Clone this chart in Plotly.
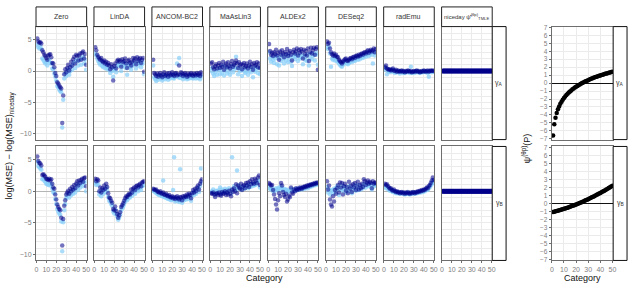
import plotly.graph_objects as go

categories = list(range(1, 51))
methods = ["Zero", "LinDA", "ANCOM-BC2", "MaAsLin3", "ALDEx2", "DESeq2", "radEmu",
           "niceday ψ̂<sup>(θp)</sup><sub>TMLE</sub>"]
rows = ["γ<sub>A</sub>", "γ<sub>B</sub>"]

# ---------- gamma A ----------
zero_A_dark = [5.2, 4.7, 4.5, 4.6, 4.4, 3.3, 3.0, 2.6, 2.4, 2.1,
               1.8, 2.5, 2.6, 2.7, 2.2, 1.3, 1.2, 0.6, -0.3, -0.8,
               -1.8, -2.0, -2.3, -2.6, -2.8, -8.3, -3.9, -0.5, 0.3, -0.2,
               0.5, 1.0, 0.1, 0.6, 1.5, 0.9, 1.9, 2.3, 1.2, 2.6,
               2.4, 1.7, 2.5, 2.8, 1.8, 2.9, 3.1, 2.0, 2.7, 1.0]
zero_A_light = [4.2, 3.8, 3.6, 3.9, 3.5, 2.0, 1.8, 1.5, 1.2, 1.4,
                0.9, 1.6, 1.8, 1.3, 1.2, 0.4, 0.3, -0.4, -0.9, -1.5,
                -2.4, -2.6, -3.0, -3.2, -3.4, -9.0, -4.6, -1.2, -0.4, -0.8,
                -0.2, 0.3, -0.6, 0.0, 0.8, 0.2, 1.2, 1.4, 0.5, 1.8,
                1.6, 0.9, 1.7, 2.0, 1.0, 2.0, 2.3, 1.2, 1.8, 0.2]
linda_A_dark = [3.8, 3.3, 2.6, 2.3, 2.0, 1.8, 2.1, 1.6, 1.4, 1.7,
                1.2, 1.5, 1.0, 1.3, 0.9, 0.3, 1.1, 0.6, -1.5, 0.8,
                1.2, 0.4, 1.6, 1.8, 1.5, 1.7, 0.7, 1.9, 1.4, 1.6,
                2.0, 1.2, 0.5, 1.6, 1.8, 1.3, 0.9, 1.5, 2.1, 1.7,
                2.0, 1.1, 2.2, 1.6, 1.9, 2.1, 1.3, 1.8, 2.1, -0.1]
linda_A_light = [2.8, 2.5, 2.0, 1.6, 1.3, 1.0, 1.4, 0.8, 0.6, 1.0,
                 0.5, 0.8, 0.3, 0.6, 0.2, -0.3, 0.5, 0.0, -0.9, 0.2,
                 0.5, -0.2, 0.9, 1.1, 0.8, 1.0, 0.0, 1.2, 0.7, 0.9,
                 1.3, 0.5, -0.6, 0.9, 1.1, 0.6, 0.2, 0.8, 1.4, 1.0,
                 1.3, 0.4, 1.5, 0.9, 1.2, 1.4, 0.6, 1.1, 1.4, -0.5]
ancom_A_dark = [1.8, -0.3, -0.5, -0.8, -0.4, -0.9, -0.6, -0.3, -0.7, -1.0,
                -0.5, -0.2, -0.8, -0.6, -0.4, -0.9, -0.3, -0.7, -0.5, -0.2,
                -0.6, -0.8, -0.4, -0.3, -0.7, -0.5, 0.9, -0.6, -0.2, -0.4,
                -0.8, -0.5, -0.3, -0.6, -0.9, -0.4, -0.7, -0.5, -0.3, -0.6,
                -0.8, -0.4, -0.5, -0.7, -0.3, -0.6, -0.4, -0.8, -0.2, -0.5]
ancom_A_light = [0.9, -1.0, -1.3, -1.6, -0.9, -1.4, -1.1, -0.8, -1.2, -1.5,
                 -1.0, -0.7, -1.3, -1.1, -0.9, -1.4, -0.8, -1.2, -1.0, -0.7,
                 -1.1, -1.2, -0.9, -0.6, 1.2, -1.0, 2.1, -1.1, -0.7, -0.9,
                 -1.3, -1.0, -0.8, -1.1, -1.3, -0.9, -1.2, -1.0, -0.8, -1.1,
                 -1.2, -0.9, -1.0, -1.2, -0.8, -1.1, -0.9, -1.3, -0.7, -1.0]
maaslin_A_dark = [1.2, 1.4, 0.6, 0.3, 0.8, 1.1, 0.4, 0.9, 1.3, 0.5,
                  1.0, 0.7, 1.5, 0.2, 0.9, 1.2, 0.6, 1.4, 0.8, 0.4,
                  1.1, 1.6, 0.7, 1.0, 1.3, 1.7, 1.2, 0.5, 1.4, 0.9,
                  1.1, 0.3, 1.0, 1.3, 0.6, 0.8, 1.2, 0.4, 0.9, 1.5,
                  0.7, 1.1, 0.2, 1.3, 0.8, 1.0, 1.4, 0.6, 1.2, 0.5]
maaslin_A_light = [0.0, 0.5, -0.4, -0.8, -0.2, 0.3, -0.6, 0.1, 0.5, -0.5,
                   0.2, -0.3, 0.8, -0.7, 0.0, 0.4, -0.4, 0.6, -0.1, -0.6,
                   0.3, 0.8, -0.2, 0.3, 0.6, 2.3, 0.4, -0.5, 0.6, 0.0,
                   0.2, -0.8, 0.1, 0.5, -0.3, -0.1, 0.4, -0.6, 0.0, 0.7,
                   -0.2, 0.3, -1.0, 0.5, -0.1, 0.2, 0.6, -0.3, 0.4, -0.5]
aldex_A_dark = [4.3, 3.2, 2.6, 2.9, 2.4, 3.0, 2.7, 3.4, 2.5, 2.9,
                1.8, 3.1, 2.6, 3.3, 2.8, 2.2, 3.0, 2.7, 3.5, 2.4,
                2.9, 3.2, 2.6, 1.7, 3.0, 3.4, 2.8, 3.1, 3.6, 2.5,
                3.3, 2.9, 3.5, 3.1, 2.0, 3.4, 2.7, 3.2, 2.5, 3.6,
                1.6, 3.0, 3.7, 2.8, 3.3, 3.7, 2.6, 3.5, 3.8, 0.2]
aldex_A_light = [3.0, 2.0, 1.5, 2.2, 1.8, 1.3, 2.0, 2.4, 1.1, 2.1,
                 0.9, 2.3, 1.6, 2.5, 1.9, 1.2, 2.2, 1.7, 2.6, 1.4,
                 2.0, 2.4, 1.5, 0.8, 2.2, 2.5, 1.9, 2.3, 2.7, 1.6,
                 2.4, 2.0, 2.6, 2.2, 1.1, 2.5, 1.8, 2.3, 1.6, 2.7,
                 0.9, 2.1, 2.8, 1.9, 2.4, 2.8, 1.7, 2.6, 2.9, 1.0]
deseq_A_dark = [4.7, 4.3, 4.5, 3.6, 3.0, 2.7, 2.5, 2.8, 2.4, 2.6,
                2.3, 2.2, 1.8, 1.6, 1.4, 1.2, 1.5, 1.7, 1.9, 2.0,
                1.7, 1.6, 1.8, 2.0, 2.1, 1.9, 2.2, 2.3, 2.1, 2.4,
                2.5, 2.3, 2.6, 2.4, 2.7, 2.8, 2.6, 2.9, 3.0, 2.8,
                3.1, 3.3, 2.9, 3.2, 3.4, 3.1, 3.3, 3.6, 3.0, 3.5]
deseq_A_light = [3.8, 3.5, 3.9, 2.8, 0.7, 2.0, 1.8, 2.2, 1.7, 2.0,
                 1.6, 1.5, 1.2, 1.0, 0.8, 0.7, 1.0, 1.2, 1.4, 1.5,
                 1.2, 1.1, 1.3, 1.5, 1.6, 1.4, 1.7, 1.8, 1.6, 1.9,
                 2.0, 1.8, 2.1, 1.9, 2.2, 2.3, 2.1, 2.4, 2.5, 2.3,
                 2.6, 2.8, 2.4, 2.7, 2.9, 2.6, 1.2, 3.0, 2.5, 2.9]
rademu_A_dark = [0.6, 0.9, 0.4, 0.3, 0.2, 0.3, 0.1, 0.2, 0.4, 0.1,
                 0.0, 0.2, -0.1, 0.1, 0.0, -0.1, 0.0, 0.1, -0.1, 0.0,
                 -0.2, 0.0, -0.1, 0.1, 0.0, -0.1, 0.0, -0.2, -0.1, 0.0,
                 -0.1, 0.0, 0.1, -0.1, 0.0, -0.2, -0.1, 0.0, -0.1, 0.1,
                 0.0, -0.1, 0.0, 0.1, -0.1, 0.0, 0.1, 0.0, 0.1, 0.0]
rademu_A_light = [0.2, 0.5, -0.5, 0.0, -0.1, 0.1, -0.2, 0.0, 0.2, -0.1,
                  -0.3, 0.0, -0.2, -0.1, -0.2, -0.4, -0.1, 0.0, -0.3, -0.2,
                  -0.3, -0.1, -0.2, 0.0, -0.1, -0.3, 0.7, -0.3, -0.2, -0.1,
                  -0.3, -0.1, 0.0, -0.2, -0.1, -0.3, -0.2, -0.1, -0.2, 0.0,
                  -0.1, -0.2, -0.1, -0.3, -0.9, -0.1, 0.0, -0.2, -0.1, -0.1]

# ---------- gamma B ----------
zero_B_dark = [5.5, 4.8, 4.5, 4.4, 4.1, 2.6, 2.7, 2.5, 2.3, 2.0,
               1.9, 1.8, 2.0, 1.7, 1.9, 1.2, 0.6, 0.4, -0.5, -1.3,
               -2.1, -2.5, -2.8, -3.0, -4.2, -8.6, -4.4, -2.3, -1.4, -0.5,
               -0.2, 0.1, -0.4, 0.4, 0.0, 0.7, 0.3, 1.0, 0.5, 1.2,
               1.6, 0.9, 1.7, 1.3, 1.8, 2.0, 1.5, 2.1, 2.2, 0.8]
zero_B_light = [4.7, 4.0, 3.8, 3.6, 3.4, 1.9, 2.0, 1.7, 1.5, 1.2,
                1.1, 1.0, 1.2, 0.9, 1.1, 0.4, -0.1, -0.3, -1.2, -2.0,
                -2.8, -3.2, -3.5, -3.7, -4.8, -9.5, -4.9, -3.0, -2.0, -1.1,
                -0.8, -0.5, -1.0, -0.3, -0.6, 0.0, -0.4, 0.3, -0.2, 0.5,
                0.9, 0.2, 1.0, 0.6, 1.1, 1.3, 0.8, 1.4, 1.5, 0.0]
linda_B_dark = [2.0, 1.6, 1.9, 1.7, 0.0, 0.6, -0.2, 0.5, 0.2, 0.9,
                0.4, 1.2, 0.7, -0.3, -1.0, -1.1, -1.5, -1.8, -2.8, -3.0,
                -2.4, -3.1, -3.6, -4.2, -3.8, -3.3, -2.5, -2.2, -1.9, -1.5,
                -1.1, -0.8, -0.9, -0.6, -0.4, -0.5, 0.3, -0.2, 0.4, 0.6,
                0.2, 0.8, 0.9, 0.6, 1.0, 1.2, 0.8, 1.4, 1.5, 1.6]
linda_B_light = [1.3, 1.0, 1.2, 1.0, -0.5, 0.0, -0.8, -0.1, -0.4, 0.3,
                 -0.2, 0.6, 0.1, -0.9, -1.5, -1.6, -2.0, -2.3, -3.2, -3.5,
                 -2.9, -3.6, -4.0, -4.5, -4.2, -3.7, -3.0, -2.7, -2.4, -2.0,
                 -1.6, -1.3, -1.4, -1.1, -0.9, -1.0, -0.3, -0.7, -0.2, 0.0,
                 -0.4, 0.2, 0.3, 0.0, 0.4, 0.6, 0.2, 0.8, 0.9, 1.0]
ancom_B_dark = [0.4, 0.3, 0.2, 0.3, 0.0, -0.1, -0.2, 0.0, -0.3, -0.4,
                -0.2, -0.5, -0.6, -0.4, -0.7, -0.8, -0.6, -0.9, -1.0, -0.8,
                -1.1, -0.9, -1.2, -1.0, -0.8, -1.1, -1.3, -0.9, -1.0, -1.4,
                -0.8, -1.0, -0.7, -0.9, -0.5, -0.8, -0.4, -0.6, -1.1, -0.3,
                0.2, -0.2, 0.4, 0.0, 0.6, 0.9, 0.3, 1.2, 1.6, 1.9]
ancom_B_light = [0.1, 0.0, -0.2, -0.1, -0.4, -0.5, -0.6, -0.4, -0.7, -0.8,
                 1.7, -0.9, -1.0, -0.8, -1.1, -1.2, -1.0, -1.3, -1.4, -1.2,
                 0.2, 5.4, -1.6, -1.4, -1.2, -1.5, -1.7, 3.5, -1.4, -1.8,
                 -1.2, -1.4, -1.1, -1.3, -0.9, -1.2, -0.8, -1.0, -1.5, -0.7,
                 -0.2, -0.6, 0.0, -0.4, 0.2, 0.5, -0.1, 0.8, 3.6, 1.4]
maaslin_B_dark = [-0.3, -0.4, -0.2, -0.5, -0.9, -0.4, -0.3, -0.6, -0.2, -0.5,
                  -0.7, -0.1, -0.4, -0.3, 0.0, -0.6, -0.2, -0.5, 0.1, -0.4,
                  -0.8, 0.3, -0.1, 0.5, 0.0, 1.1, -0.3, 0.9, 0.6, 0.4,
                  1.2, 0.2, 0.8, 1.0, 0.5, 1.3, 0.9, 1.4, 0.7, 1.6,
                  1.1, 1.9, 1.4, 1.2, 2.0, 1.7, 1.3, 2.2, 2.5, 1.0]
maaslin_B_light = [-0.1, 0.0, 0.3, -0.2, -0.5, 0.1, 0.0, -0.2, 0.2, 0.6,
                   -0.3, 0.3, 0.0, 0.1, 0.4, -0.2, 0.2, 0.0, 0.5, 0.1,
                   -0.3, 5.4, 0.3, 0.8, 0.4, 0.2, 3.3, 0.5, 0.9, 0.6,
                   0.3, 0.7, 0.5, 0.4, 0.8, 0.6, 0.9, 0.5, 1.0, 0.7,
                   1.1, 0.8, 1.2, 0.9, 1.0, 1.3, 1.1, 1.5, 1.7, 0.6]
aldex_B_dark = [1.3, 1.1, 0.9, 1.0, 0.2, -0.5, -1.2, -2.1, -2.9, -1.4,
                -0.3, -0.8, 1.3, 0.9, -0.1, -0.6, -0.9, -0.4, -1.6, -1.3,
                -0.7, -0.9, 0.6, -0.2, -0.4, 0.3, 0.0, 0.5, 0.2, 0.4,
                0.3, 0.6, 0.5, 0.4, 0.7, 0.6, 0.8, 0.7, 0.9, 0.8,
                1.0, 0.9, 1.1, 1.0, 1.2, 1.1, 1.3, 1.2, 1.4, 1.3]
aldex_B_light = [0.6, 0.4, 0.3, 0.5, 0.0, 0.3, 0.1, 0.5, 0.2, 0.4,
                 0.6, 0.3, 0.8, 0.5, 0.2, 0.4, 0.1, 0.3, 0.2, -0.1,
                 0.0, 0.2, 0.4, 0.1, 0.3, 0.2, 0.1, 0.3, 0.4, 0.2,
                 0.3, 0.5, 0.4, 0.3, 0.5, 0.6, 0.4, 0.6, 0.7, 0.5,
                 0.8, 0.7, 0.9, 0.8, 1.0, 0.9, 1.1, 1.0, 1.2, 1.1]
deseq_B_dark = [1.6, 0.3, 0.9, -1.3, -2.1, -2.4, -0.8, -1.6, 0.2, -0.4,
                0.5, 1.0, -0.2, 1.4, 0.6, 1.3, -0.5, 0.8, 1.2, 0.1,
                0.7, -0.3, 1.5, 0.4, 0.9, -0.1, 1.1, 0.6, 1.3, 0.2,
                0.8, 1.5, 0.3, 1.0, 0.5, 1.2, 0.7, 1.9, 1.6, 1.0,
                1.4, 1.7, 1.2, 1.5, 1.3, 0.5, 1.6, 1.2, 1.4, 1.3]
deseq_B_light = [0.7, -0.2, 0.3, -0.5, 0.0, 0.2, -0.3, 0.4, -0.1, 0.5,
                 0.8, 0.3, -0.6, 0.6, 0.2, 0.9, 0.1, 0.4, 0.7, -0.2,
                 0.3, 0.0, 0.8, 0.2, 0.5, -0.3, 0.6, 0.3, 0.9, 0.1,
                 0.4, 1.0, 0.2, 0.6, 0.3, 0.8, 0.5, 1.2, 1.0, 0.6,
                 0.9, 1.1, 0.8, 1.0, 0.9, 0.3, 1.1, 0.8, 1.0, 0.9]
rademu_B_dark = [1.2, 1.0, 1.1, 0.8, 0.6, 0.4, 0.5, 0.2, 0.1, 0.3,
                 0.0, -0.1, 0.0, -0.2, -0.1, -0.3, -0.2, -0.1, -0.3, -0.2,
                 -0.4, -0.2, -0.3, -0.1, -0.3, -0.4, -0.2, -0.3, -0.1, -0.2,
                 -0.3, -0.1, -0.2, 0.0, -0.1, 0.1, 0.0, 0.2, 0.1, 0.3,
                 0.2, 0.4, 0.6, 0.5, 0.8, 1.0, 1.3, 1.7, 2.2, 1.8]
rademu_B_light = [0.8, 0.5, 0.7, 0.4, 0.2, 0.1, 0.3, 0.0, -0.1, 0.1,
                  -0.2, -0.3, -0.1, -0.3, -0.2, -0.4, -0.3, -0.2, -0.4, -0.3,
                  -0.5, -0.3, -0.4, -0.2, -0.4, -0.5, -0.3, -0.4, -0.2, -0.3,
                  -0.4, -0.2, -0.3, -0.1, -0.2, -0.1, -0.2, 0.0, -0.1, 0.1,
                  0.0, 0.2, 0.3, 0.2, 0.5, 0.7, 0.9, 1.2, 1.6, 1.3]

# niceday compared with itself
niceday_diff = [0.0] * 50

# true parameter psi per category
psi_A = [-6.60, -5.18, -4.35, -3.76, -3.30, -2.93, -2.61, -2.34, -2.10, -1.88,
         -1.68, -1.51, -1.34, -1.19, -1.05, -0.92, -0.79, -0.68, -0.56, -0.46,
         -0.36, -0.26, -0.17, -0.09, 0.00, 0.08, 0.16, 0.23, 0.30, 0.37,
         0.44, 0.51, 0.57, 0.63, 0.69, 0.75, 0.80, 0.86, 0.91, 0.96,
         1.01, 1.06, 1.11, 1.16, 1.20, 1.25, 1.29, 1.34, 1.38, 1.42]
psi_B = [-1.06, -1.02, -0.98, -0.94, -0.90, -0.85, -0.81, -0.76, -0.72, -0.67,
         -0.62, -0.57, -0.52, -0.48, -0.41, -0.36, -0.30, -0.24, -0.18, -0.12,
         -0.06, 0.00, 0.06, 0.13, 0.19, 0.26, 0.33, 0.40, 0.47, 0.54,
         0.61, 0.68, 0.76, 0.83, 0.91, 0.99, 1.07, 1.15, 1.23, 1.31,
         1.39, 1.48, 1.56, 1.65, 1.74, 1.83, 1.92, 2.01, 2.10, 2.20]

dark_series = [
    [zero_A_dark, linda_A_dark, ancom_A_dark, maaslin_A_dark, aldex_A_dark, deseq_A_dark, rademu_A_dark, niceday_diff],
    [zero_B_dark, linda_B_dark, ancom_B_dark, maaslin_B_dark, aldex_B_dark, deseq_B_dark, rademu_B_dark, niceday_diff],
]
light_series = [
    [zero_A_light, linda_A_light, ancom_A_light, maaslin_A_light, aldex_A_light, deseq_A_light, rademu_A_light, None],
    [zero_B_light, linda_B_light, ancom_B_light, maaslin_B_light, aldex_B_light, deseq_B_light, rademu_B_light, None],
]
psi_series = [psi_A, psi_B]

# ---------- layout helpers ----------
W, H = 634, 288
def fx(x): return x / W
def fy(y): return 1 - y / H

col_x0 = [34.3 + 58.4 * c for c in range(8)]
panel_w = 51.0
row_y = [(24.0, 139.0), (146.0, 262.0)]
right_x = (554.0, 616.0)

FONT = "Liberation Sans, Arial, sans-serif"
BORDER = "#6e6e6e"
GRID = "#ebebeb"
TICKC = "#6e6e6e"
TICKFONT = dict(size=7, color="#808080", family=FONT)
DARK = "rgba(0,0,139,0.55)"
LIGHT = "rgba(135,206,250,0.7)"

fig = go.Figure()
layout = {}
shapes = []
annotations = []

def axis_names(n):
    return ("x" if n == 1 else f"x{n}", "y" if n == 1 else f"y{n}",
            "xaxis" if n == 1 else f"xaxis{n}", "yaxis" if n == 1 else f"yaxis{n}")

def label(text, x, y, size, color="#333333", angle=0):
    annotations.append(dict(text=text, xref="paper", yref="paper", x=fx(x), y=fy(y),
                            showarrow=False, xanchor="center", yanchor="middle",
                            textangle=angle,
                            font=dict(size=size, color=color, family=FONT)))

n = 0
for r in range(2):
    y0, y1 = row_y[r]
    for c in range(8):
        n += 1
        xa, ya, xk, yk = axis_names(n)
        x0 = col_x0[c]
        layout[xk] = dict(domain=[fx(x0), fx(x0 + panel_w)], anchor=ya,
                          range=[-0.3, 50.5], tick0=0, dtick=10, tickangle=0,
                          showgrid=True, gridcolor=GRID, gridwidth=1,
                          zeroline=False, showline=True, linecolor=BORDER, linewidth=1, mirror=True,
                          ticks="outside" if r == 1 else "", ticklen=2, tickcolor=TICKC,
                          showticklabels=(r == 1), tickfont=TICKFONT)
        layout[yk] = dict(domain=[fy(y1), fy(y0)], anchor=xa,
                          range=[-10.95, 7.1], tick0=0, dtick=5,
                          showgrid=True, gridcolor=GRID, gridwidth=1,
                          minor=dict(dtick=1, showgrid=True, gridcolor=GRID, gridwidth=1),
                          zeroline=True, zerolinecolor="#b5b5b5", zerolinewidth=1,
                          showline=True, linecolor=BORDER, linewidth=1, mirror=True,
                          ticks="outside" if c == 0 else "", ticklen=2, tickcolor=TICKC,
                          showticklabels=(c == 0), tickfont=TICKFONT)
        light = light_series[r][c]
        if light is not None:
            fig.add_trace(go.Scatter(x=categories, y=light, mode="markers", xaxis=xa, yaxis=ya,
                                     marker=dict(size=4.5, color=LIGHT, line=dict(width=0)),
                                     showlegend=False, hoverinfo="skip"))
        fig.add_trace(go.Scatter(x=categories, y=dark_series[r][c], mode="markers", xaxis=xa, yaxis=ya,
                                 marker=dict(size=4.5 if c < 7 else 5,
                                             color=DARK if c < 7 else "rgba(0,0,139,0.9)",
                                             line=dict(width=0)),
                                 showlegend=False, hoverinfo="skip"))
        # top strips
        if r == 0:
            shapes.append(dict(type="rect", xref="paper", yref="paper",
                               x0=fx(x0), x1=fx(x0 + panel_w), y0=fy(24), y1=fy(4),
                               fillcolor="white", line=dict(color="#222222", width=1)))
            label(methods[c], x0 + panel_w / 2, 14, 7 if c < 7 else 6)
    # row strip for left block
    xs0 = col_x0[7] + panel_w
    shapes.append(dict(type="rect", xref="paper", yref="paper",
                       x0=fx(xs0), x1=fx(xs0 + 14), y0=fy(y1), y1=fy(y0),
                       fillcolor="white", line=dict(color="#111111", width=1)))
    label(rows[r], xs0 + 7, (y0 + y1) / 2, 7)

# right block
for r in range(2):
    n += 1
    xa, ya, xk, yk = axis_names(n)
    y0, y1 = row_y[r]
    layout[xk] = dict(domain=[fx(right_x[0]), fx(right_x[1])], anchor=ya,
                      range=[-0.2, 50.6], tick0=0, dtick=10, tickangle=0,
                      showgrid=True, gridcolor=GRID, gridwidth=1,
                      zeroline=False, showline=True, linecolor=BORDER, linewidth=1, mirror=True,
                      ticks="outside" if r == 1 else "", ticklen=2, tickcolor=TICKC,
                      showticklabels=(r == 1), tickfont=TICKFONT)
    layout[yk] = dict(domain=[fy(y1), fy(y0)], anchor=xa,
                      range=[-7.1, 7.1], tick0=0, dtick=1,
                      showgrid=True, gridcolor=GRID, gridwidth=1,
                      zeroline=True, zerolinecolor="#111111", zerolinewidth=1,
                      showline=True, linecolor=BORDER, linewidth=1, mirror=True,
                      ticks="outside", ticklen=2, tickcolor=TICKC,
                      showticklabels=True,
                      tickfont=dict(size=6.5, color="#808080", family=FONT))
    fig.add_trace(go.Scatter(x=categories, y=psi_series[r], mode="markers", xaxis=xa, yaxis=ya,
                             marker=dict(size=4.5, color="black", line=dict(width=0)),
                             showlegend=False, hoverinfo="skip"))
    shapes.append(dict(type="rect", xref="paper", yref="paper",
                       x0=fx(right_x[1]), x1=fx(right_x[1] + 14), y0=fy(y1), y1=fy(y0),
                       fillcolor="white", line=dict(color="#111111", width=1)))
    label(rows[r], right_x[1] + 7, (y0 + y1) / 2, 7)

# axis titles
label("Category", 265, 280, 9, "#111111")
label("Category", 585, 280, 9, "#111111")
label("log(MSE) − log(MSE)<sub>niceday</sub>", 9, 145, 9, "#111111", -90)
label("ψ<sup>(θp)</sup>(P)", 529, 148, 9, "#111111", -90)

fig.update_layout(width=W, height=H, margin=dict(l=0, r=0, t=0, b=0),
                  paper_bgcolor="white", plot_bgcolor="white",
                  shapes=shapes, annotations=annotations, **layout)

fig.write_html("out.html", config={"displayModeBar": False},
               post_script="document.body.style.margin='0';document.body.style.padding='0';")
